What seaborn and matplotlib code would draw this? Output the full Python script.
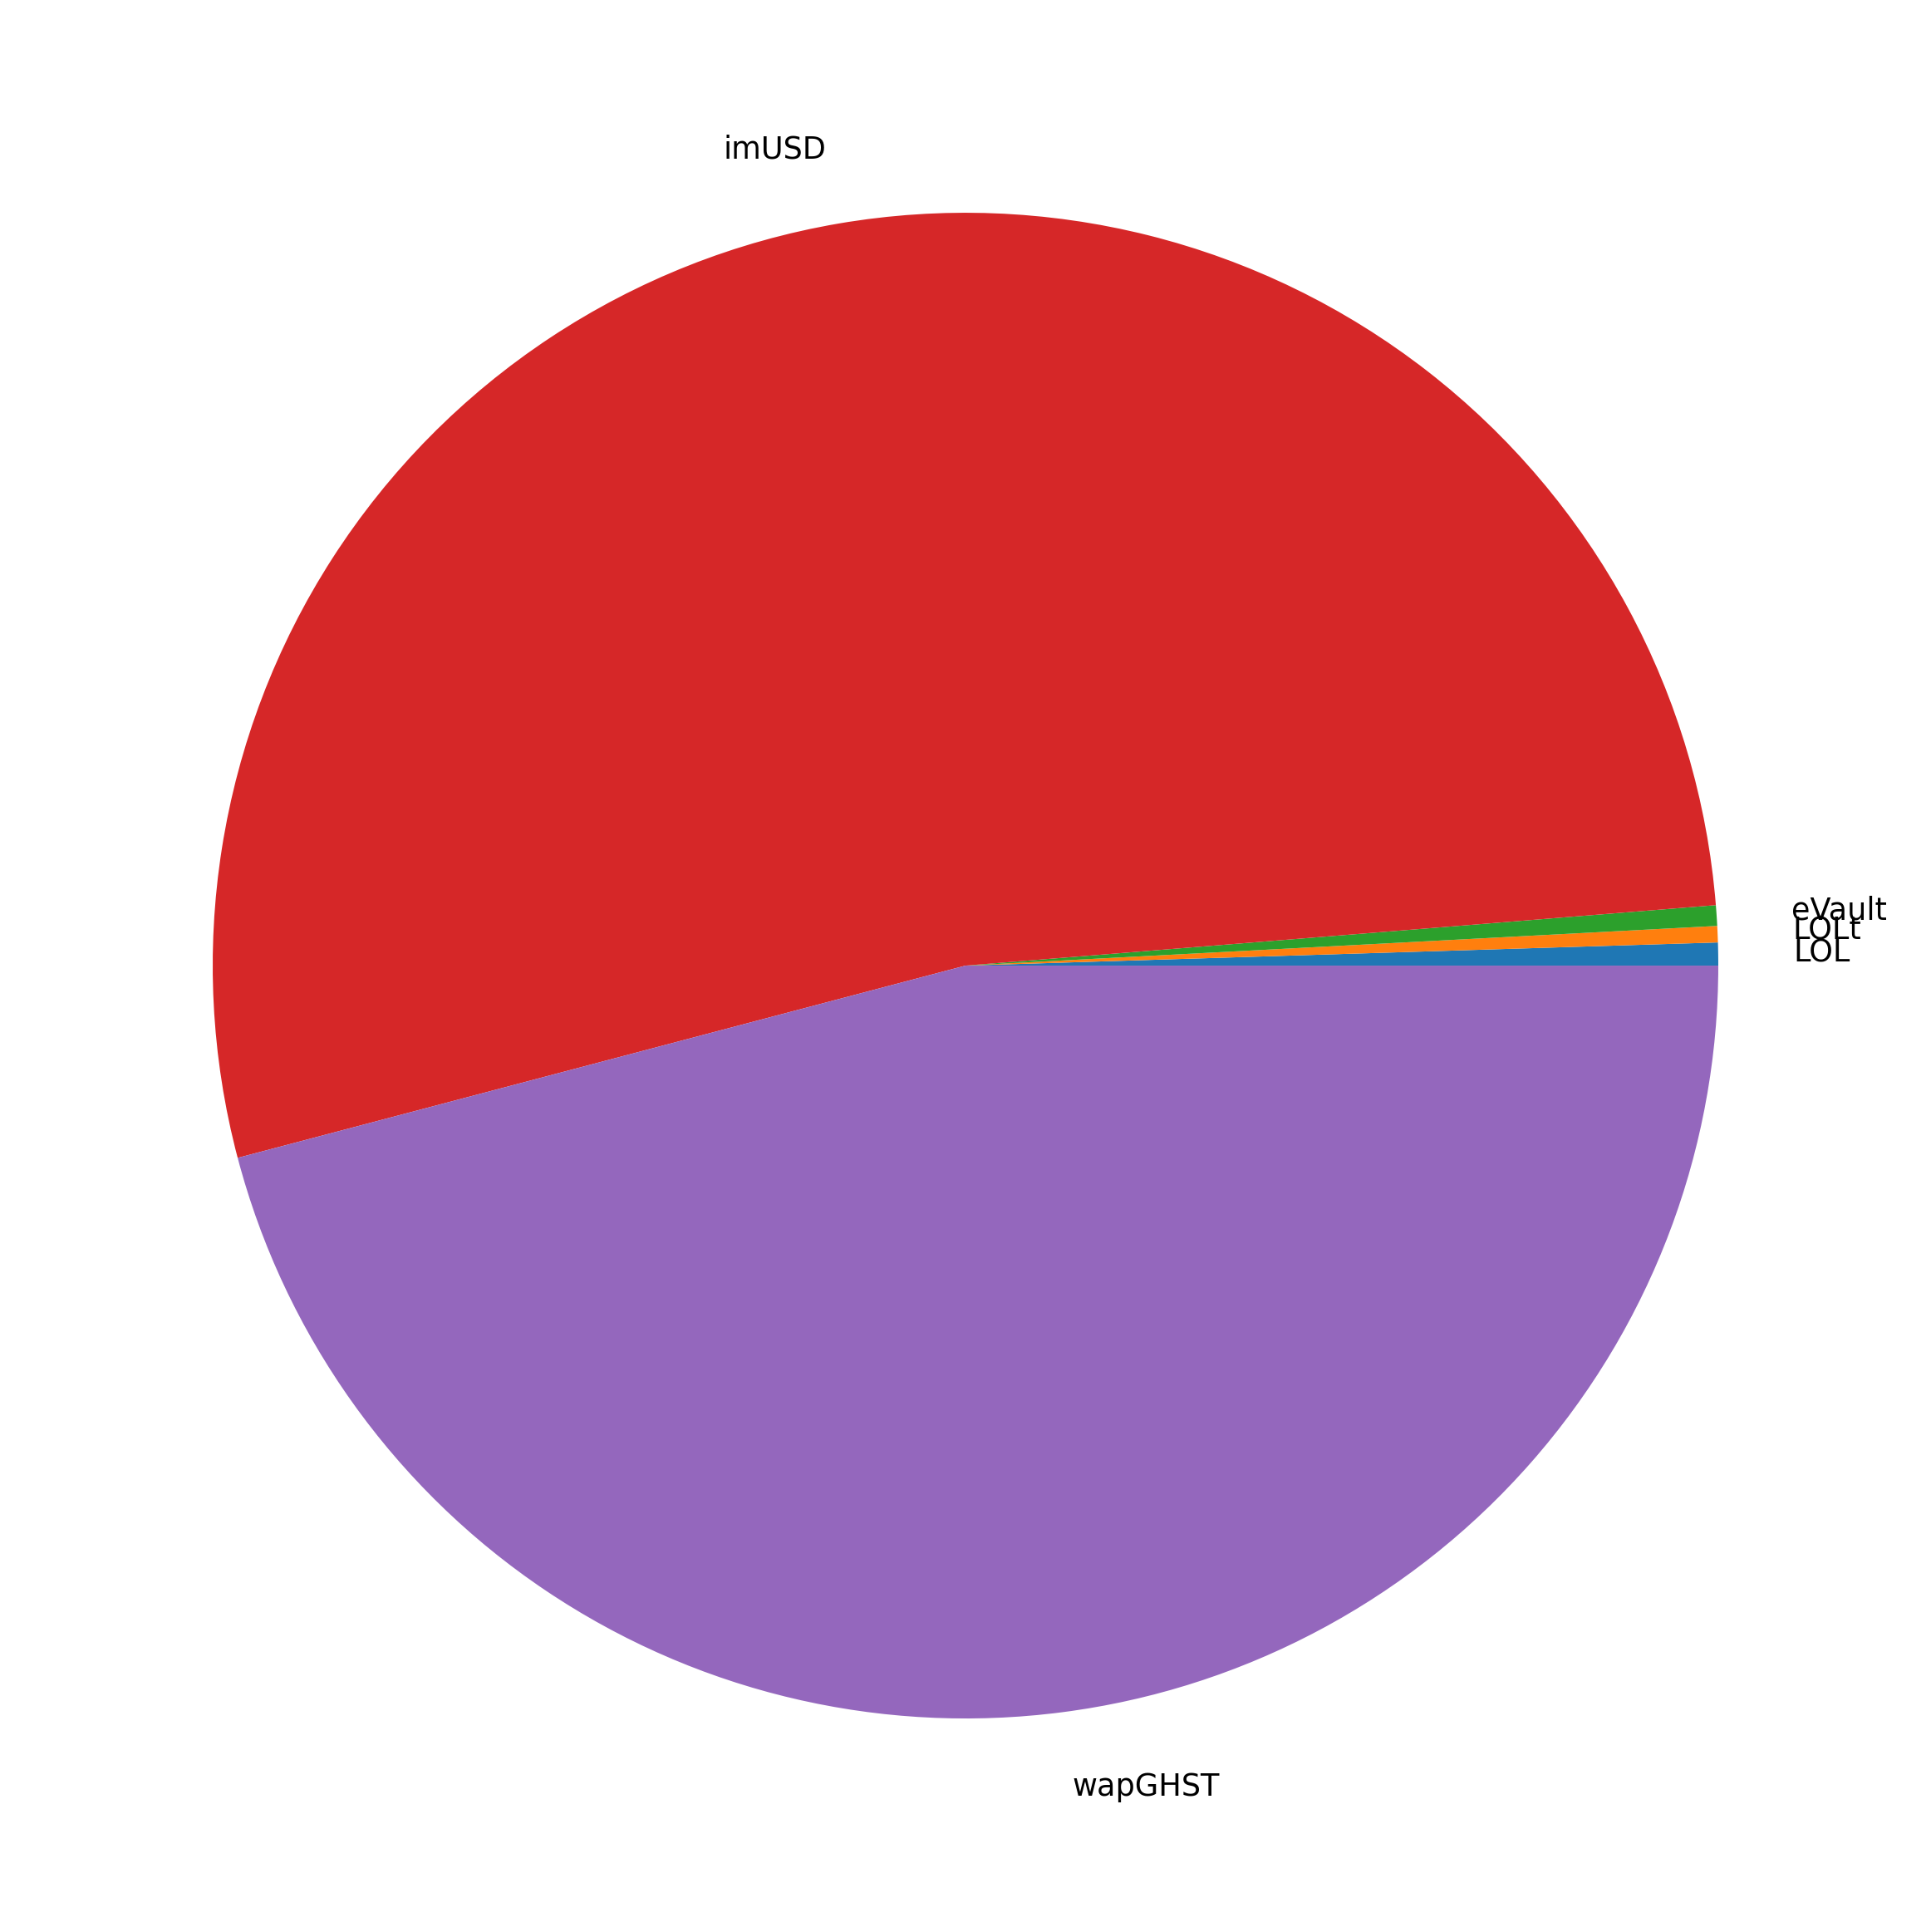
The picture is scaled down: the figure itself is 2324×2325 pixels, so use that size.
import matplotlib
matplotlib.use('Agg')
import matplotlib.pyplot as plt
import seaborn as sns

# share of each token (%)
tokens = ['LOL', 'LOLt', 'eVault', 'imUSD', 'wapGHST']
shares = [0.49, 0.35, 0.44, 52.83, 45.89]

colors = sns.color_palette('tab10', n_colors=len(tokens))

fig = plt.figure(figsize=(23.24, 23.25), dpi=100)
ax = fig.add_axes([0.0127, 0.0131, 0.9746, 0.9742])
ax.pie(shares, labels=tokens, colors=colors, textprops={'fontsize': 26.4})
ax.set_aspect('equal')

fig.savefig('out.png', dpi=100)
